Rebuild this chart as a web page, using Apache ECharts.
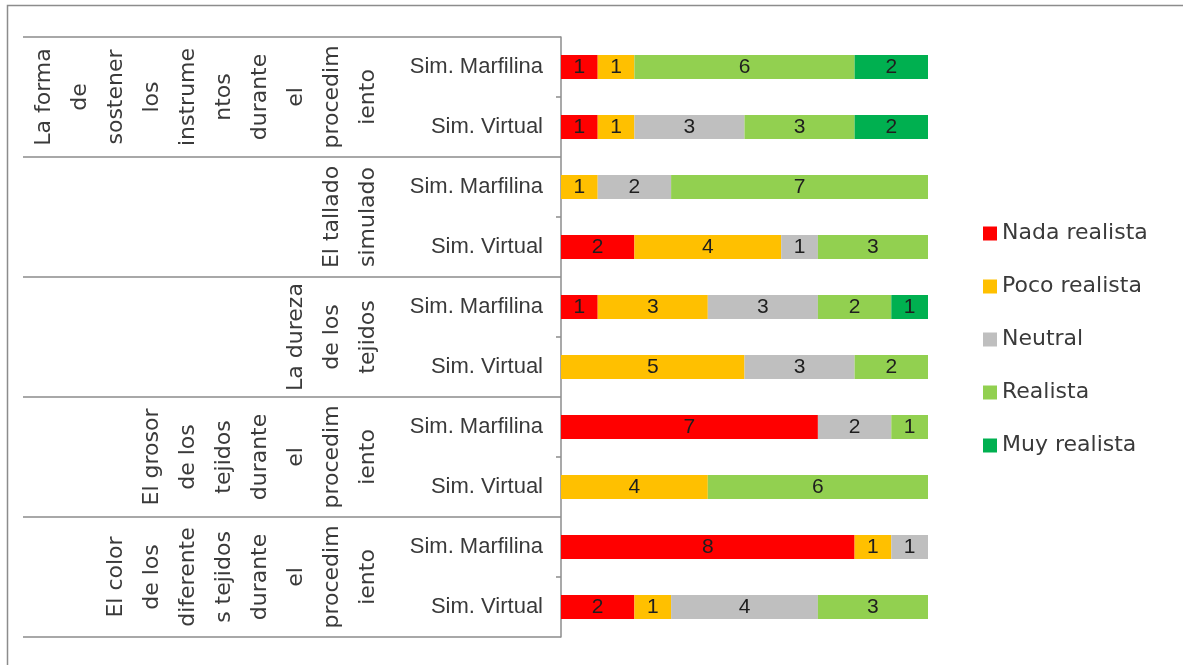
<!DOCTYPE html>
<html>
<head>
<meta charset="utf-8">
<script src="https://cdn.jsdelivr.net/npm/echarts@6/dist/echarts.min.js"></script>
<style>
  html, body { margin: 0; padding: 0; background: #ffffff; }
  #chart { width: 1183px; height: 665px; }
</style>
</head>
<body>
<div id="chart"></div>
<script>
// Rows of the table, top to bottom: two simulators per evaluated aspect
const rows = [
  'Sim. Marfilina', 'Sim. Virtual',
  'Sim. Marfilina', 'Sim. Virtual',
  'Sim. Marfilina', 'Sim. Virtual',
  'Sim. Marfilina', 'Sim. Virtual',
  'Sim. Marfilina', 'Sim. Virtual'
];

// Evaluated aspects, wrapped as they appear in the table
const groups = [
  'La forma\nde\nsostener\nlos\ninstrume\nntos\ndurante\nel\nprocedim\niento',
  'El tallado\nsimulado',
  'La dureza\nde los\ntejidos',
  'El grosor\nde los\ntejidos\ndurante\nel\nprocedim\niento',
  'El color\nde los\ndiferente\ns tejidos\ndurante\nel\nprocedim\niento'
];

// Likert levels
const levels = ['Nada realista', 'Poco realista', 'Neutral', 'Realista', 'Muy realista'];

// Number of answers per level, one value per row
const nada     = [1, 1, 0, 2, 1, 0, 7, 0, 8, 2];
const poco     = [1, 1, 1, 4, 3, 5, 0, 4, 1, 1];
const neutral  = [0, 3, 2, 1, 3, 3, 2, 0, 1, 4];
const realista = [6, 3, 7, 3, 2, 2, 1, 6, 0, 3];
const muy      = [2, 2, 0, 0, 1, 0, 0, 0, 0, 0];

const colors = ['#FF0000', '#FFC000', '#BFBFBF', '#92D050', '#00B050'];
const values = [nada, poco, neutral, realista, muy];

const lineGray = '#8c8c8c';
const textGray = '#3a3a3a';

const chart = echarts.init(document.getElementById('chart'), null, { renderer: 'canvas' });

const series = levels.map((name, i) => ({
  name: name,
  type: 'bar',
  stack: 'total',
  yAxisIndex: 0,
  barWidth: 24,
  itemStyle: { color: colors[i] },
  label: {
    show: true,
    position: 'inside',
    color: '#1e1e1e',
    fontFamily: 'Liberation Sans',
    fontSize: 21,
    formatter: p => (p.value ? String(p.value) : '')
  },
  emphasis: { disabled: true },
  data: values[i]
}));

chart.setOption({
  animation: false,
  backgroundColor: '#ffffff',
  color: colors,
  graphic: [{
    type: 'rect',
    z: -10,
    silent: true,
    shape: { x: 7.5, y: 5.5, width: 1300, height: 800 },
    style: { fill: 'none', stroke: lineGray, lineWidth: 1.5 }
  }],
  legend: {
    orient: 'vertical',
    left: 978,
    top: 217,
    itemWidth: 14,
    itemHeight: 14,
    itemGap: 30,
    icon: 'rect',
    selectedMode: false,
    data: levels,
    textStyle: {
      color: textGray,
      fontFamily: 'DejaVu Sans',
      fontSize: 22,
      lineHeight: 23
    }
  },
  grid: {
    left: 561,
    right: 255,
    top: 37,
    bottom: 28,
    containLabel: false
  },
  xAxis: {
    type: 'value',
    min: 0,
    max: 10,
    show: false
  },
  yAxis: [
    {
      type: 'category',
      inverse: true,
      position: 'left',
      data: rows,
      axisLine: { show: true, lineStyle: { color: lineGray, width: 1.5 } },
      axisTick: { show: true, length: 5, lineStyle: { color: lineGray, width: 1.5 } },
      axisLabel: {
        interval: 0,
        margin: 18,
        color: textGray,
        fontFamily: 'Liberation Sans',
        fontSize: 22
      },
      splitLine: { show: false }
    },
    {
      type: 'category',
      inverse: true,
      position: 'left',
      data: groups,
      axisLine: { show: false },
      axisTick: { show: true, length: 538, lineStyle: { color: lineGray, width: 1.5 } },
      axisLabel: {
        interval: 0,
        rotate: 90,
        margin: 175,
        align: 'center',
        verticalAlign: 'bottom',
        lineHeight: 36,
        color: textGray,
        fontFamily: 'DejaVu Sans',
        fontSize: 22
      },
      splitLine: { show: false }
    }
  ],
  series: series
});
</script>
</body>
</html>
